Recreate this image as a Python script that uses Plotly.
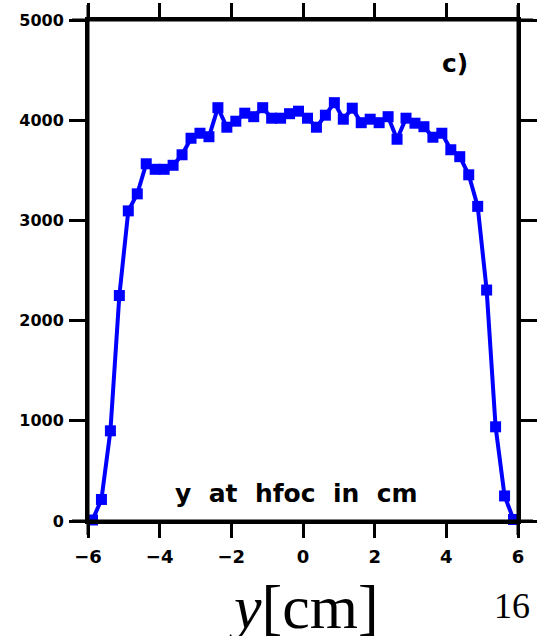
import plotly.graph_objects as go

# bin centres (cm) and counts
y_pos = [-5.875, -5.625, -5.375, -5.125, -4.875, -4.625, -4.375, -4.125,
         -3.875, -3.625, -3.375, -3.125, -2.875, -2.625, -2.375, -2.125,
         -1.875, -1.625, -1.375, -1.125, -0.875, -0.625, -0.375, -0.125,
         0.125, 0.375, 0.625, 0.875, 1.125, 1.375, 1.625, 1.875,
         2.125, 2.375, 2.625, 2.875, 3.125, 3.375, 3.625, 3.875,
         4.125, 4.375, 4.625, 4.875, 5.125, 5.375, 5.625, 5.875]
counts = [10, 215, 900, 2250, 3095, 3265, 3565, 3510,
          3510, 3550, 3655, 3820, 3870, 3835, 4125, 3930,
          3990, 4070, 4035, 4125, 4020, 4020, 4065, 4090,
          4020, 3930, 4050, 4175, 4010, 4120, 3975, 4010,
          3975, 4035, 3810, 4020, 3970, 3935, 3830, 3870,
          3705, 3636, 3455, 3140, 2305, 940, 250, 15]

x_ticks = [-6, -4, -2, 0, 2, 4, 6]
y_ticks = [0, 1000, 2000, 3000, 4000, 5000]

W, H = 537, 636
L, R, T, B = 88, 19, 20, 115
pw, ph = W - L - R, H - T - B

def px_x(p):
    return (p - L) / pw

def px_y(p):
    return (H - B - p) / ph

fig = go.Figure()
fig.add_trace(go.Scatter(
    x=y_pos, y=counts, mode="lines+markers",
    line=dict(color="rgb(0,0,255)", width=4),
    marker=dict(symbol="square", size=11, color="rgb(0,0,255)"),
    cliponaxis=False, showlegend=False,
))

xtickfont = dict(family="DejaVu Sans", size=18, color="black", weight="bold")
ytickfont = dict(family="DejaVu Sans", size=16, color="black", weight="bold")
fig.update_xaxes(range=[-6, 6], tickvals=x_ticks, ticks="outside", ticklen=14,
                 tickwidth=3, tickcolor="black", showline=True, linewidth=3,
                 linecolor="black", mirror="ticks", showgrid=False,
                 zeroline=False, tickfont=xtickfont, ticklabelstandoff=3,
                 automargin=False)
fig.update_yaxes(range=[0, 5000], tickvals=y_ticks, ticks="outside", ticklen=16,
                 tickwidth=3, tickcolor="black", showline=True, linewidth=3,
                 linecolor="black", mirror="ticks", showgrid=False,
                 zeroline=False, tickfont=ytickfont, ticklabelstandoff=2,
                 automargin=False)

# extended frame lines (crossing corners)
line = dict(color="black", width=3)
x_lo, x_hi = px_x(72), px_x(533)
y_lo, y_hi = px_y(535), px_y(5)
shapes = [
    dict(type="line", xref="paper", yref="paper", x0=0, x1=0, y0=y_lo, y1=y_hi, line=line),
    dict(type="line", xref="paper", yref="paper", x0=1, x1=1, y0=y_lo, y1=y_hi, line=line),
    dict(type="line", xref="paper", yref="paper", x0=x_lo, x1=x_hi, y0=0, y1=0, line=line),
    dict(type="line", xref="paper", yref="paper", x0=x_lo, x1=x_hi, y0=1, y1=1, line=line),
]

annfont = dict(family="DejaVu Sans", size=25, color="black", weight="bold")
annotations = [
    dict(text="y  at  hfoc  in  cm", xref="paper", yref="paper",
         x=px_x(296), y=px_y(493), xanchor="center", yanchor="middle",
         showarrow=False, font=annfont),
    dict(text="c)", xref="paper", yref="paper",
         x=px_x(455), y=px_y(64), xanchor="center", yanchor="middle",
         showarrow=False, font=annfont),
    dict(text="<i>y</i>[cm]", xref="paper", yref="paper",
         x=px_x(303), y=px_y(607), xanchor="center", yanchor="middle",
         showarrow=False, font=dict(family="Liberation Serif", size=62, color="black")),
    dict(text="16", xref="paper", yref="paper",
         x=px_x(512), y=px_y(606), xanchor="center", yanchor="middle",
         showarrow=False, font=dict(family="Liberation Serif", size=36, color="black")),
]

fig.update_layout(width=W, height=H, margin=dict(l=L, r=R, t=T, b=B),
                  paper_bgcolor="white", plot_bgcolor="white",
                  shapes=shapes, annotations=annotations)

fig.write_html("out.html")
